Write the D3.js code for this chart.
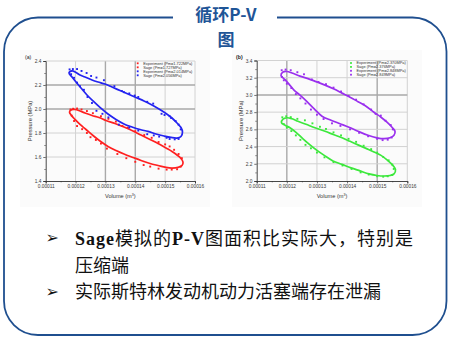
<!DOCTYPE html>
<html><head><meta charset="utf-8">
<script src="https://cdn.jsdelivr.net/npm/d3@7"></script>
<style>
html,body{margin:0;padding:0;background:#fff;}
svg{display:block;}
</style></head>
<body>
<svg id="slide" width="451" height="341"></svg>
<script>
// Volumes are stored in units of 1e-4 m³, pressures in MPa.
const volumeTicks = [1.1, 1.2, 1.3, 1.4, 1.5, 1.6];
const volumeTickLabels = ["0.00011", "0.00012", "0.00013", "0.00014", "0.00015", "0.00016"];
const pressureTicksA = [1.4, 1.6, 1.8, 2.0, 2.2, 2.4];
const pressureTicksB = [2.0, 2.2, 2.4, 2.6, 2.8, 3.0, 3.2, 3.4];

const legendLabelsA = ["Experiment (Pm=1.722MPa)", "Sage (Pm=1.727MPa)", "Experiment (Pm=2.014MPa)", "Sage (Pm=2.056MPa)"];
const legendLabelsB = ["Experiment (Pm=2.370MPa)", "Sage (Pm=2.376MPa)", "Experiment (Pm=2.848MPa)", "Sage (Pm=2.849MPa)"];

// (a) low-pressure loop (red)
const expRedA = [[1.183,1.996],[1.192,2.002],[1.205,2.004],[1.220,1.996],[1.238,1.983],[1.258,1.965],[1.285,1.940],[1.310,1.918],[1.335,1.895],[1.357,1.858],[1.375,1.845],[1.400,1.815],[1.430,1.783],[1.455,1.760],[1.478,1.725],[1.500,1.705],[1.515,1.688],[1.530,1.660],[1.545,1.625],[1.556,1.590],
  [1.552,1.520],[1.540,1.498],[1.522,1.495],[1.505,1.495],[1.478,1.503],[1.450,1.520],[1.428,1.533],[1.400,1.560],[1.370,1.590],[1.340,1.625],[1.305,1.670],[1.285,1.712],[1.268,1.742],[1.250,1.765],[1.238,1.800],[1.222,1.832],[1.205,1.858],[1.195,1.900],[1.187,1.945]];
const sageRedA = [[1.1797,1.975],[1.1864,1.993],[1.1981,1.996],[1.2149,1.983],[1.2316,1.967],[1.2551,1.946],[1.2785,1.929],[1.3019,1.904],[1.3321,1.879],[1.3622,1.850],[1.3924,1.817],[1.4192,1.783],[1.4493,1.746],[1.4761,1.713],[1.5029,1.675],[1.5230,1.646],[1.5397,1.617],[1.5531,1.588],[1.5598,1.558],
  [1.5565,1.529],[1.5431,1.513],[1.5230,1.508],[1.5029,1.513],[1.4761,1.529],[1.4493,1.546],[1.4192,1.571],[1.3924,1.596],[1.3622,1.625],[1.3354,1.654],[1.3086,1.688],[1.2818,1.733],[1.2584,1.779],[1.2350,1.829],[1.2149,1.871],[1.1981,1.913],[1.1864,1.946]];
// (a) high-pressure loop (blue)
const expBlueA = [[1.180,2.330],[1.191,2.333],[1.205,2.333],[1.220,2.317],[1.237,2.300],[1.252,2.275],[1.270,2.262],[1.295,2.240],[1.330,2.190],[1.355,2.150],[1.362,2.140],[1.380,2.130],[1.398,2.112],[1.410,2.100],[1.440,2.060],[1.460,2.045],[1.488,1.960],[1.498,1.950],[1.515,1.940],[1.520,1.925],[1.535,1.900],[1.545,1.870],[1.552,1.830],
  [1.545,1.750],[1.532,1.747],[1.515,1.750],[1.505,1.760],[1.480,1.770],[1.462,1.780],[1.440,1.790],[1.410,1.820],[1.380,1.845],[1.345,1.870],[1.310,1.930],[1.290,1.960],[1.270,1.985],[1.255,2.050],[1.240,2.100],[1.228,2.160],[1.215,2.190],[1.205,2.220],[1.195,2.260],[1.185,2.290]];
const sageBlueA = [[1.1780,2.300],[1.1881,2.317],[1.2015,2.304],[1.2149,2.283],[1.2316,2.267],[1.2551,2.242],[1.2752,2.225],[1.2986,2.208],[1.3220,2.183],[1.3488,2.154],[1.3756,2.125],[1.4024,2.096],[1.4292,2.067],[1.4560,2.033],[1.4794,2.000],[1.5029,1.963],[1.5230,1.925],[1.5397,1.883],[1.5531,1.846],[1.5581,1.808],
  [1.5531,1.771],[1.5397,1.758],[1.5196,1.763],[1.4962,1.775],[1.4694,1.792],[1.4426,1.813],[1.4158,1.829],[1.3890,1.850],[1.3622,1.875],[1.3354,1.913],[1.3086,1.958],[1.2818,2.013],[1.2584,2.067],[1.2383,2.117],[1.2182,2.175],[1.2015,2.225],[1.1881,2.267]];

// (b) low-pressure loop (green)
const expGreenB = [[1.185,2.740],[1.198,2.752],[1.213,2.742],[1.235,2.722],[1.260,2.705],[1.285,2.670],[1.310,2.630],[1.330,2.605],[1.355,2.565],[1.380,2.530],[1.405,2.490],[1.430,2.455],[1.455,2.410],[1.480,2.370],[1.500,2.330],[1.520,2.280],[1.538,2.240],[1.550,2.190],[1.555,2.140],
  [1.550,2.070],[1.535,2.055],[1.520,2.050],[1.500,2.055],[1.472,2.075],[1.445,2.100],[1.415,2.140],[1.385,2.180],[1.355,2.220],[1.325,2.275],[1.300,2.330],[1.280,2.380],[1.262,2.420],[1.245,2.478],[1.230,2.530],[1.215,2.580],[1.200,2.620],[1.190,2.660]];
const sageGreenB = [[1.1823,2.677],[1.1873,2.718],[1.2006,2.735],[1.2172,2.723],[1.2371,2.694],[1.2637,2.659],[1.2936,2.618],[1.3268,2.578],[1.3566,2.537],[1.3832,2.502],[1.4098,2.461],[1.4363,2.420],[1.4629,2.379],[1.4894,2.338],[1.5127,2.298],[1.5326,2.245],[1.5492,2.193],[1.5608,2.134],
  [1.5558,2.082],[1.5426,2.064],[1.5226,2.058],[1.4994,2.064],[1.4728,2.082],[1.4430,2.117],[1.4131,2.152],[1.3832,2.193],[1.3533,2.233],[1.3268,2.292],[1.3002,2.356],[1.2770,2.420],[1.2537,2.490],[1.2305,2.566],[1.2106,2.618],[1.1940,2.648]];
// (b) high-pressure loop (purple)
const expPurpleB = [[1.183,3.287],[1.196,3.295],[1.213,3.287],[1.235,3.264],[1.257,3.240],[1.283,3.180],[1.305,3.150],[1.330,3.125],[1.355,3.085],[1.380,3.040],[1.405,2.990],[1.430,2.945],[1.455,2.890],[1.480,2.830],[1.495,2.780],[1.512,2.760],[1.528,2.700],[1.545,2.650],[1.552,2.600],
  [1.548,2.505],[1.535,2.480],[1.518,2.475],[1.500,2.490],[1.470,2.520],[1.440,2.560],[1.410,2.600],[1.378,2.640],[1.350,2.670],[1.322,2.720],[1.300,2.770],[1.280,2.830],[1.262,2.900],[1.245,2.960],[1.230,3.010],[1.215,3.080],[1.200,3.130],[1.190,3.170],[1.184,3.210]];
const sagePurpleB = [[1.1807,3.225],[1.1873,3.266],[1.2006,3.272],[1.2172,3.254],[1.2438,3.219],[1.2703,3.190],[1.2969,3.155],[1.3268,3.114],[1.3566,3.068],[1.3832,3.021],[1.4098,2.974],[1.4363,2.922],[1.4629,2.869],[1.4894,2.799],[1.5127,2.741],[1.5326,2.683],[1.5492,2.624],[1.5592,2.578],
  [1.5558,2.531],[1.5426,2.502],[1.5226,2.492],[1.4994,2.502],[1.4695,2.531],[1.4363,2.578],[1.4064,2.624],[1.3766,2.665],[1.3467,2.706],[1.3168,2.753],[1.2902,2.840],[1.2670,2.922],[1.2438,2.998],[1.2238,3.056],[1.2072,3.126],[1.1940,3.178]];

const titleLines = ["循环P-V", "图"];
const bulletOne = [["Sage", "latin"], ["模拟的", "cjk"], ["P-V", "latin"], ["图面积比实际大，特别是", "cjk"]];
const bulletOneWrap = "压缩端";
const bulletTwo = "实际斯特林发动机动力活塞端存在泄漏";

const RED = "#ff2020", BLUE = "#2323f0", GREEN = "#3ce83c", PURPLE = "#9a30ee";
const FRAME = "#1f4f8f", TITLE = "#1f5597";
const CJK = "'Noto Sans CJK SC', 'Noto Sans', sans-serif";
const SERIF = "'Liberation Serif', 'DejaVu Serif', serif";
const SANS = "'Liberation Sans', Arial, sans-serif";

const svg = d3.select("#slide");
svg.append("rect").attr("width", 451).attr("height", 341).attr("fill", "#fff");

// Rounded frame with a gap in the top edge for the title
(function drawFrame() {
  const x0 = 4, y0 = 17.5, x1 = 446.5, y1 = 335, r = 34, gapL = 173, gapR = 277;
  const p = d3.path();
  p.moveTo(gapR, y0);
  p.lineTo(x1 - r, y0);
  p.arcTo(x1, y0, x1, y0 + r, r);
  p.lineTo(x1, y1 - r);
  p.arcTo(x1, y1, x1 - r, y1, r);
  p.lineTo(x0 + r, y1);
  p.arcTo(x0, y1, x0, y1 - r, r);
  p.lineTo(x0, y0 + r);
  p.arcTo(x0, y0, x0 + r, y0, r);
  p.lineTo(gapL, y0);
  svg.append("path").attr("d", p.toString()).attr("fill", "none")
    .attr("stroke", FRAME).attr("stroke-width", 1.8);
})();

// Two-line title
const title = svg.append("text")
  .attr("text-anchor", "middle")
  .attr("font-family", CJK).attr("font-weight", "bold")
  .attr("font-size", 17).attr("fill", TITLE);
titleLines.forEach((t, i) => title.append("tspan")
  .attr("x", 226).attr("y", 20.8 + i * 24.7).text(t));

function drawPanel(cfg) {
  const g = svg.append("g");
  g.append("rect").attr("x", cfg.bg[0]).attr("y", cfg.bg[1])
    .attr("width", cfg.bg[2]).attr("height", cfg.bg[3]).attr("fill", "#fbfbfb");

  const x = d3.scaleLinear().domain([1.1, 1.6]).range(cfg.xRange);
  const y = d3.scaleLinear().domain(cfg.yDomain).range(cfg.yRange);

  // grid
  const grid = g.append("g");
  volumeTicks.slice(1).forEach(v => {
    const strong = cfg.strongX.includes(v);
    grid.append("line").attr("x1", x(v)).attr("x2", x(v))
      .attr("y1", cfg.yRange[0]).attr("y2", cfg.yRange[1])
      .attr("stroke", strong ? "#a9a9a9" : "#d2d2d2").attr("stroke-width", strong ? 1.4 : 1);
  });
  cfg.yTicks.slice(1).forEach(v => {
    const strong = cfg.strongY.includes(v);
    grid.append("line").attr("x1", cfg.xRange[0]).attr("x2", cfg.xRange[1])
      .attr("y1", y(v)).attr("y2", y(v))
      .attr("stroke", strong ? "#a9a9a9" : "#d2d2d2").attr("stroke-width", strong ? 1.4 : 1);
  });

  // axes
  const minorX = d3.range(0, 10).map(i => 1.15 + i * 0.1).filter(v => v < 1.6);
  const yStep = cfg.yTicks[1] - cfg.yTicks[0];
  const minorY = cfg.yTicks.slice(0, -1).map(v => v + yStep / 2);

  const xAxis = g.append("g").attr("transform", `translate(0,${cfg.yRange[0]})`)
    .call(d3.axisBottom(x).tickValues(volumeTicks).tickSize(2.4).tickPadding(1.5)
      .tickFormat((d, i) => volumeTickLabels[i]));
  g.append("g").attr("transform", `translate(0,${cfg.yRange[0]})`)
    .call(d3.axisBottom(x).tickValues(minorX).tickSize(1.3).tickFormat(""))
    .call(s => s.select(".domain").remove());
  const yAxis = g.append("g").attr("transform", `translate(${cfg.xRange[0]},0)`)
    .call(d3.axisLeft(y).tickValues(cfg.yTicks).tickSize(2.4).tickPadding(2)
      .tickFormat(d3.format(".1f")));
  g.append("g").attr("transform", `translate(${cfg.xRange[0]},0)`)
    .call(d3.axisLeft(y).tickValues(minorY).tickSize(1.3).tickFormat(""))
    .call(s => s.select(".domain").remove());

  g.selectAll(".domain").attr("stroke", "#333").attr("stroke-width", 0.9);
  g.selectAll(".tick line").attr("stroke", "#333").attr("stroke-width", 0.7);
  [xAxis, yAxis].forEach(a => a.selectAll("text")
    .attr("font-family", SANS).attr("font-size", 4.8).attr("fill", "#3a3a3a"));

  // axis titles
  const xt = g.append("text").attr("x", (cfg.xRange[0] + cfg.xRange[1]) / 2).attr("y", 198)
    .attr("text-anchor", "middle").attr("font-family", SANS).attr("font-size", 5.6).attr("fill", "#333");
  xt.append("tspan").text("Volume (m");
  xt.append("tspan").attr("dy", -2).attr("font-size", 3.6).text("3");
  xt.append("tspan").attr("dy", 2).text(")");
  g.append("text")
    .attr("transform", `translate(${cfg.xRange[0] - 13.5},${(cfg.yRange[0] + cfg.yRange[1]) / 2}) rotate(-90)`)
    .attr("text-anchor", "middle").attr("font-family", SANS).attr("font-size", 5.8).attr("fill", "#333")
    .text("Pressure (MPa)");

  g.append("text").attr("x", cfg.panelLabel[1]).attr("y", cfg.panelLabel[2])
    .attr("font-family", SANS).attr("font-size", 5.2).attr("font-weight", cfg.panelBold ? "bold" : "normal")
    .attr("fill", "#222").text(cfg.panelLabel[0]);

  // series
  const line = d3.line().x(d => x(d[0])).y(d => y(d[1])).curve(d3.curveCatmullRomClosed);
  cfg.series.forEach(s => {
    if (s.kind === "sage") {
      g.append("path").attr("d", line(s.data)).attr("fill", "none")
        .attr("stroke", s.color).attr("stroke-width", 1.7);
    } else {
      g.append("g").selectAll("rect").data(s.data).join("rect")
        .attr("x", d => x(d[0]) - 0.95).attr("y", d => y(d[1]) - 0.95)
        .attr("width", 1.9).attr("height", 1.9).attr("fill", s.color);
    }
  });

  // legend
  const lg = g.append("g");
  cfg.legend.labels.forEach((t, i) => {
    const ry = cfg.legend.y + i * cfg.legend.step;
    lg.append("rect").attr("x", cfg.legend.x - 0.9).attr("y", ry - 0.9)
      .attr("width", 1.8).attr("height", 1.8).attr("fill", cfg.legend.colors[i]);
    lg.append("text").attr("x", cfg.legend.x + 5.5).attr("y", ry + 1.3)
      .attr("font-family", SANS).attr("font-size", 3.9).attr("fill", "#333").text(t);
  });
}

drawPanel({
  bg: [20, 50, 190, 157],
  xRange: [45.7, 195], yRange: [181, 61], yDomain: [1.4, 2.4], yTicks: pressureTicksA,
  strongX: [1.3, 1.4], strongY: [2.0, 2.2],
  panelLabel: ["(a)", 25, 58.5], panelBold: false,
  series: [
    { kind: "exp", data: expRedA, color: RED },
    { kind: "sage", data: sageRedA, color: RED },
    { kind: "exp", data: expBlueA, color: BLUE },
    { kind: "sage", data: sageBlueA, color: BLUE }
  ],
  legend: { x: 137.7, y: 63.3, step: 4, labels: legendLabelsA, colors: [RED, RED, BLUE, BLUE] }
});

drawPanel({
  bg: [232, 50, 190, 157],
  xRange: [256.7, 407.3], yRange: [181, 60.5], yDomain: [2.0, 3.4], yTicks: pressureTicksB,
  strongX: [1.2, 1.5], strongY: [3.0],
  panelLabel: ["(b)", 236, 59], panelBold: true,
  series: [
    { kind: "exp", data: expGreenB, color: GREEN },
    { kind: "sage", data: sageGreenB, color: GREEN },
    { kind: "exp", data: expPurpleB, color: PURPLE },
    { kind: "sage", data: sagePurpleB, color: PURPLE }
  ],
  legend: { x: 351, y: 63, step: 3.9, labels: legendLabelsB, colors: [GREEN, GREEN, PURPLE, PURPLE] }
});

// Bullet list
const bullets = svg.append("g");
[243, 296.5].forEach(yb => bullets.append("text").attr("x", 45.5).attr("y", yb)
  .attr("font-family", "'DejaVu Sans', sans-serif").attr("font-size", 16).attr("fill", "#111").text("➢"));

const l1 = bullets.append("text").attr("x", 75).attr("y", 244.5)
  .attr("font-size", 18).attr("fill", "#111")
  .attr("textLength", 338).attr("lengthAdjust", "spacing");
bulletOne.forEach(([t, kind]) => {
  l1.append("tspan")
    .attr("font-family", kind === "latin" ? SERIF : CJK)
    .attr("font-weight", kind === "latin" ? "bold" : "normal")
    .text(t);
});
bullets.append("text").attr("x", 75).attr("y", 271.5).attr("font-size", 18)
  .attr("font-family", CJK).attr("fill", "#111").text(bulletOneWrap);
bullets.append("text").attr("x", 75).attr("y", 297.5).attr("font-size", 18)
  .attr("font-family", CJK).attr("fill", "#111").text(bulletTwo);
</script>
</body></html>
